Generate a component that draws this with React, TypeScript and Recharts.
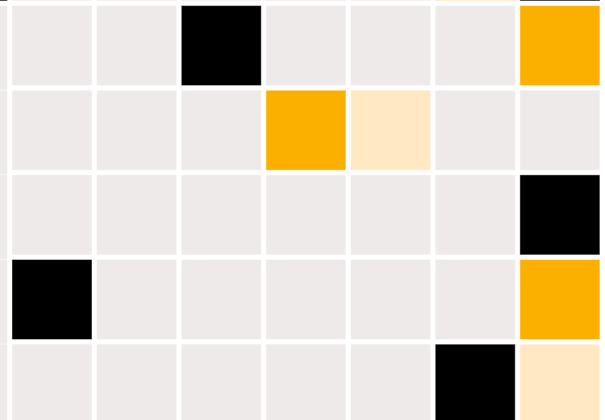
import React from "react";
import { ScatterChart, Scatter, XAxis, YAxis } from "recharts";

// level: 0 = grey (none), 1 = light orange, 2 = orange, 3 = black
const columns = [0, 1, 2, 3, 4, 5, 6, 7];
const rowIds = [0, 1, 2, 3, 4, 5];
const row0 = [3, 0, 0, 0, 0, 0, 1, 3];
const row1 = [0, 0, 0, 3, 0, 0, 0, 2];
const row2 = [0, 0, 0, 0, 2, 1, 0, 0];
const row3 = [0, 0, 0, 0, 0, 0, 0, 3];
const row4 = [0, 3, 0, 0, 0, 0, 0, 2];
const row5 = [0, 0, 0, 0, 0, 0, 3, 1];
const rows = [row0, row1, row2, row3, row4, row5];

const palette = ["#EEEAE9", "#FFE8C2", "#FBB000", "#000000"];

const W = 605;
const H = 420;
const X_DOMAIN: [number, number] = [0.386, 7.533];
const Y_DOMAIN: [number, number] = [0.4616, 5.4233];
const PITCH = W / (X_DOMAIN[1] - X_DOMAIN[0]);
const GAP = 4.65;

const data = rowIds.flatMap((r) =>
  columns.map((c) => ({ col: c, row: r, level: rows[r][c] }))
);

const Cell = (props: any) => {
  const { cx, cy, payload } = props;
  const size = PITCH - GAP;
  const extra = payload.col === 0 && payload.row > 0 ? GAP : 0;
  return (
    <rect
      x={cx - size / 2}
      y={cy - size / 2}
      width={size}
      height={size + extra}
      fill={palette[payload.level]}
      stroke="rgba(255,255,255,0.45)"
      strokeWidth={1}
    />
  );
};

export default function App() {
  return (
    <div style={{ position: "absolute", left: 0, top: 0, width: W, height: H, background: "#fff" }}>
      <ScatterChart width={W} height={H} margin={{ top: 0, right: 0, bottom: 0, left: 0 }}>
        <XAxis type="number" dataKey="col" domain={X_DOMAIN} allowDataOverflow hide />
        <YAxis type="number" dataKey="row" domain={Y_DOMAIN} allowDataOverflow reversed hide />
        <Scatter data={data} shape={<Cell />} isAnimationActive={false} />
      </ScatterChart>
    </div>
  );
}
